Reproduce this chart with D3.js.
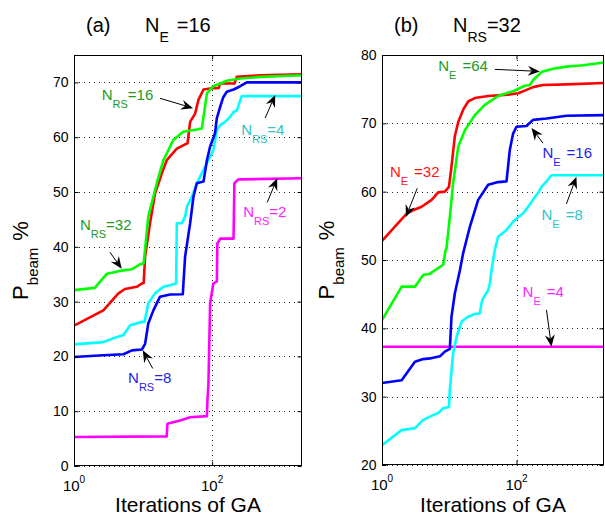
<!DOCTYPE html>
<html>
<head>
<meta charset="utf-8">
<script src="https://cdn.jsdelivr.net/npm/d3@7"></script>
<style>
	body { margin: 0; background: #fff; }
	svg { display: block; font-family: "Liberation Sans", Arial, sans-serif; }
</style>
</head>
<body>
<div class="container"></div>
<script>
// ticks
const xTicks = [1, 100]
const xTickExp = ['0', '2']
const yTicksA = [0, 10, 20, 30, 40, 50, 60, 70]
const yTicksB = [20, 30, 40, 50, 60, 70, 80]

// (a) N_E = 16, one curve per N_RS  -> [iteration, P_beam %]
const aNrs32 = [[1,32.1],[2,32.5],[3,35.1],[4.6,35.6],[6.9,35.9],[9,36.8],[10.1,36.9],[10.3,37.5],[11.9,45.5],[15.8,51.6],[19.7,55.8],[27.5,59.5],[38,61.0],[60,61.4],[71,61.6],[75,63.7],[84,68.0],[104,69.3],[131,69.8],[163,70.3],[255,70.7],[496,71.0],[2000,71.3]]
const aNrs16 = [[1,25.6],[2.66,28.4],[4.39,31.5],[5.48,32.3],[8.1,32.7],[9.6,33.3],[10.2,33.4],[10.7,38.2],[12.6,44.3],[14.9,49.7],[18.7,53.4],[22,55.8],[30.8,57.9],[40.6,58.7],[44,58.9],[45,59.8],[48,62.8],[56.7,64.3],[63.3,66.8],[75,68.7],[93.5,68.9],[125,69.0],[130,69.8],[210,69.8],[228,71.0],[496,71.3],[2000,71.5]]
const aNrs8 = [[1,19.9],[2.66,20.2],[5.2,20.4],[6.9,21.1],[9.6,21.25],[10.7,22.3],[11.9,26],[14.1,28.4],[17.6,30.9],[24.6,31.3],[37.6,31.35],[38.4,33.3],[40.6,38.2],[48,44.3],[53.6,49.1],[60,51.6],[75,51.9],[84,55.8],[93.5,58.3],[110,60.7],[117,63.5],[131,65.6],[145,67.3],[163,68.3],[204,68.7],[255,69.3],[318,70.0],[2000,70.0]]
const aNrs4 = [[1,22.2],[2.66,22.6],[3.7,23.3],[5.2,23.9],[6.5,25.7],[9.6,26.3],[10.5,26.3],[11.9,29.7],[14.9,31.5],[19.7,32.7],[24.6,33.0],[30.1,33.3],[30.8,44.3],[36.4,44.3],[40.6,45.5],[43,47.3],[50.8,49.1],[60,51.6],[67,52.8],[79,54.6],[88,55.8],[104,57.6],[117,61.3],[131,62.2],[154,62.8],[182,63.7],[204,64.6],[228,64.9],[261,67.1],[269,67.5],[2000,67.5]]
const aNrs2 = [[1,5.3],[22,5.4],[22.5,7.7],[34.4,8.3],[48,8.9],[84,9.1],[85.5,12],[88.4,15],[93.5,29.7],[104,33.3],[117,33.7],[119,40.6],[131,41.5],[204,41.5],[210,51.6],[240,52.3],[2000,52.5]]

// (b) N_RS = 32, one curve per N_E
const bNe64 = [[1,41.2],[1.96,46.1],[3.09,46.1],[4.1,47.8],[5.16,48.0],[8.13,49.3],[8.83,51.5],[9.1,51.7],[10.2,56.3],[11.4,61.2],[13.6,66.6],[17.1,69.0],[24,71.2],[33.8,72.7],[53.3,74.0],[89,74.7],[133,75.5],[158,75.6],[176,76.3],[235,77.5],[349,78.0],[552,78.3],[975,78.5],[2000,78.9]]
const bNe32 = [[1,52.8],[2.33,56.8],[3.09,57.4],[3.88,57.8],[5.47,58.8],[6.85,59.9],[8.6,60.0],[9.9,60.7],[10.8,63.7],[12.1,68.1],[13.6,70.2],[16.1,72.0],[19.1,73.2],[24,73.7],[37.9,74.0],[75,74.2],[106,74.4],[141,74.9],[176,75.3],[248,75.6],[552,75.7],[2000,75.9]]
const bNe16 = [[1,32.0],[1.96,32.4],[3.09,35.1],[4.1,35.5],[5.16,35.6],[7.26,35.9],[8.6,36.6],[10.2,37.0],[10.8,41.7],[12.1,45.1],[14.4,48.5],[16.1,51],[20.3,54.9],[26.9,58.8],[37.9,61.0],[53.3,61.4],[71,61.5],[79.5,66.1],[89,68.5],[100,69.5],[141,69.6],[176,70.5],[279,70.7],[552,71.1],[2000,71.2]]
const bNe8 = [[1,22.9],[1.96,25.1],[3.09,25.4],[4.1,26.6],[5.78,27.3],[6.85,27.6],[8.13,28.3],[9.9,28.5],[10.2,31.0],[11.4,36.3],[12.9,38.8],[15.3,41.0],[19.1,41.7],[24,42.1],[28.5,42.2],[30.2,43.7],[31.9,44.4],[37.9,45.6],[40.2,46.6],[42.5,48.5],[47.6,51.5],[53.3,53.4],[71,54.4],[89,55.6],[106,56.3],[125,56.8],[149,57.8],[176,58.8],[209,59.8],[235,60.7],[279,61.5],[331,62.4],[2000,62.4]]
const bNe4 = [[1,37.3],[2000,37.3]]

// annotations: text anchor, arrow tail and arrow head in data units
const annA = [
	{ sub: 'RS', rest: '=16', color: '#229922', text: [2.52, 66.7], tail: [17.6, 67.1], head: [53, 65.3] },
	{ sub: 'RS', rest: '=4', color: '#2ec4c4', text: [263, 60.4], tail: [586, 63.5], head: [818, 67.7] },
	{ sub: 'RS', rest: '=2', color: '#ff22ff', text: [281, 45.4], tail: [627, 48.1], head: [875, 52.5] },
	{ sub: 'RS', rest: '=32', color: '#229922', text: [1.22, 43.0], tail: [3.32, 39.0], head: [4.91, 36.0] },
	{ sub: 'RS', rest: '=8', color: '#2222ee', text: [6.06, 15.1], tail: [13.8, 17.8], head: [9.9, 21.1] }
]
const annB = [
	{ sub: 'E', rest: '=64', gap: 6, color: '#229922', text: [6.85, 77.6], tail: [47.6, 77.9], head: [222, 77.6] },
	{ sub: 'E', rest: '=32', gap: 6, color: '#ff1111', text: [1.31, 62.2], tail: [3.34, 60.5], head: [2.27, 56.3] },
	{ sub: 'E', rest: '=16', gap: 6, color: '#2222ee', text: [243, 64.9], tail: [248, 67.1], head: [167, 69.3] },
	{ sub: 'E', rest: '=8', gap: 6, color: '#2ec4c4', text: [235, 55.9], tail: [552, 58.2], head: [778, 62.2] },
	{ sub: 'E', rest: '=4', gap: 6, color: '#ff22ff', text: [123, 44.6], tail: [279, 42.7], head: [331, 37.3] }
]

const svg = d3.select('.container')
	.append('svg')
	.attr('width', 605)
	.attr('height', 517)

function drawPanel(p, idx) {
	let x = d3.scaleLog().domain([1, 2000]).range([p.left, p.right])
	let y = d3.scaleLinear().domain(p.yDomain).range([p.bottom, p.top])
	let g = svg.append('g')

	// dotted grid
	g.selectAll('.hg').data(p.yTicks).enter().append('line')
		.attr('x1', p.left).attr('x2', p.right)
		.attr('y1', d => Math.round(y(d)) + 0.5).attr('y2', d => Math.round(y(d)) + 0.5)
		.attr('stroke', '#222').attr('stroke-dasharray', '1,4')
	g.selectAll('.vg').data([100]).enter().append('line')
		.attr('x1', d => Math.round(x(d)) + 0.5).attr('x2', d => Math.round(x(d)) + 0.5)
		.attr('y1', p.top).attr('y2', p.bottom)
		.attr('stroke', '#222').attr('stroke-dasharray', '1,4')

	// curves
	svg.append('clipPath').attr('id', 'clip' + idx)
		.append('rect').attr('x', p.left).attr('y', p.top)
		.attr('width', p.right - p.left).attr('height', p.bottom - p.top)
	let line = d3.line().x(d => x(d[0])).y(d => y(d[1]))
	p.series.forEach(s => {
		g.append('path').datum(s.data)
			.attr('d', line)
			.attr('fill', 'none')
			.attr('stroke', s.color)
			.attr('stroke-width', 2.6)
			.attr('stroke-linejoin', 'round')
			.attr('clip-path', 'url(#clip' + idx + ')')
	})

	// axes, ticks pointing inward
	let yl = g.append('g').attr('transform', `translate(${p.left + 0.5},0)`)
		.call(d3.axisLeft(y).tickValues(p.yTicks).tickSizeInner(-4).tickSizeOuter(0).tickPadding(6))
	let yr = g.append('g').attr('transform', `translate(${p.right - 0.5},0)`)
		.call(d3.axisRight(y).tickValues(p.yTicks).tickSizeInner(-4).tickSizeOuter(0).tickFormat(''))
	let xb = g.append('g').attr('transform', `translate(0,${p.bottom - 0.5})`)
		.call(d3.axisBottom(x).tickValues(xTicks).tickSizeInner(-4).tickSizeOuter(0).tickFormat(''))
	let xt = g.append('g').attr('transform', `translate(0,${p.top + 0.5})`)
		.call(d3.axisTop(x).tickValues(xTicks).tickSizeInner(-4).tickSizeOuter(0).tickFormat(''))
	;[yl, yr, xb, xt].forEach(a => {
		a.select('.domain').remove()
		a.selectAll('line').attr('stroke', '#000')
	})
	yl.selectAll('text')
		.attr('font-family', '"Liberation Sans", Arial, sans-serif')
		.attr('font-size', 14).attr('fill', '#000')

	// box
	g.append('rect')
		.attr('x', p.left + 0.5).attr('y', p.top + 0.5)
		.attr('width', p.right - p.left - 1).attr('height', p.bottom - p.top - 1)
		.attr('fill', 'none').attr('stroke', '#000')

	// x tick labels 10^n
	let xl = g.selectAll('.xl').data(xTicks).enter().append('text')
		.attr('x', d => x(d)).attr('y', p.bottom + 25)
		.attr('text-anchor', 'middle').attr('font-size', 15)
	xl.append('tspan').text('10')
	xl.append('tspan').attr('font-size', 10).attr('dy', -8).text((d, i) => xTickExp[i])

	// x label
	g.append('text')
		.attr('x', (p.left + p.right) / 2).attr('y', 512)
		.attr('text-anchor', 'middle').attr('font-size', 21)
		.text('Iterations of GA')

	// y label
	let yt = g.append('text')
		.attr('transform', `translate(${p.left - p.ylabOff},${(p.top + p.bottom) / 2}) rotate(-90)`)
		.attr('text-anchor', 'middle').attr('font-size', 22)
	yt.append('tspan').text('P')
	yt.append('tspan').attr('font-size', 15).attr('dy', 10).text('beam')
	yt.append('tspan').attr('dy', -10).attr('dx', 7).text('%')

	// title
	g.append('text').attr('x', p.left + 12).attr('y', 32).attr('font-size', 20).text(p.tag)
	let tt = g.append('text').attr('x', p.left + p.titleN).attr('y', 32).attr('font-size', 20)
	tt.append('tspan').text('N')
	tt.append('tspan').attr('font-size', 14).attr('dy', 9.5).text(p.titleSub)
	tt.append('tspan').attr('dy', -9.5).attr('dx', p.titleGap).text(p.titleRest)

	// annotations
	p.ann.forEach(a => {
		let t = g.append('text')
			.attr('x', x(a.text[0])).attr('y', y(a.text[1]))
			.attr('font-size', 15).attr('fill', a.color)
		t.append('tspan').text('N')
		t.append('tspan').attr('font-size', 11).attr('dy', 8).text(a.sub)
		t.append('tspan').attr('dy', -8).attr('dx', a.gap || 0).text(a.rest)

		let x0 = x(a.tail[0]), y0 = y(a.tail[1])
		let x1 = x(a.head[0]), y1 = y(a.head[1])
		let ang = Math.atan2(y1 - y0, x1 - x0)
		let L = 12, W = 5, N = 8
		let c = Math.cos(ang), s = Math.sin(ang)
		let pt = (u, v) => [x1 - u * c - v * s, y1 - u * s + v * c]
		g.append('line')
			.attr('x1', x0).attr('y1', y0)
			.attr('x2', pt(N, 0)[0]).attr('y2', pt(N, 0)[1])
			.attr('stroke', '#000').attr('stroke-width', 1)
		g.append('path')
			.attr('d', 'M' + [[x1, y1], pt(L, W), pt(N, 0), pt(L, -W)].map(q => q.join(',')).join('L') + 'Z')
			.attr('fill', '#000')
	})
}

drawPanel({
	left: 74, right: 302, top: 55, bottom: 466,
	yDomain: [0, 75], yTicks: yTicksA, ylabOff: 46,
	tag: '(a)', titleN: 71, titleSub: 'E', titleGap: 8, titleRest: '=16',
	series: [
		{ data: aNrs2, color: '#ff00ff' },
		{ data: aNrs4, color: '#00ffff' },
		{ data: aNrs8, color: '#0000ff' },
		{ data: aNrs16, color: '#ff0000' },
		{ data: aNrs32, color: '#00ff00' }
	],
	ann: annA
}, 0)

drawPanel({
	left: 382, right: 604, top: 55, bottom: 465,
	yDomain: [20, 80], yTicks: yTicksB, ylabOff: 48,
	tag: '(b)', titleN: 71, titleSub: 'RS', titleGap: 0, titleRest: '=32',
	series: [
		{ data: bNe4, color: '#ff00ff' },
		{ data: bNe8, color: '#00ffff' },
		{ data: bNe16, color: '#0000ff' },
		{ data: bNe32, color: '#ff0000' },
		{ data: bNe64, color: '#00ff00' }
	],
	ann: annB
}, 1)
</script>
</body>
</html>
